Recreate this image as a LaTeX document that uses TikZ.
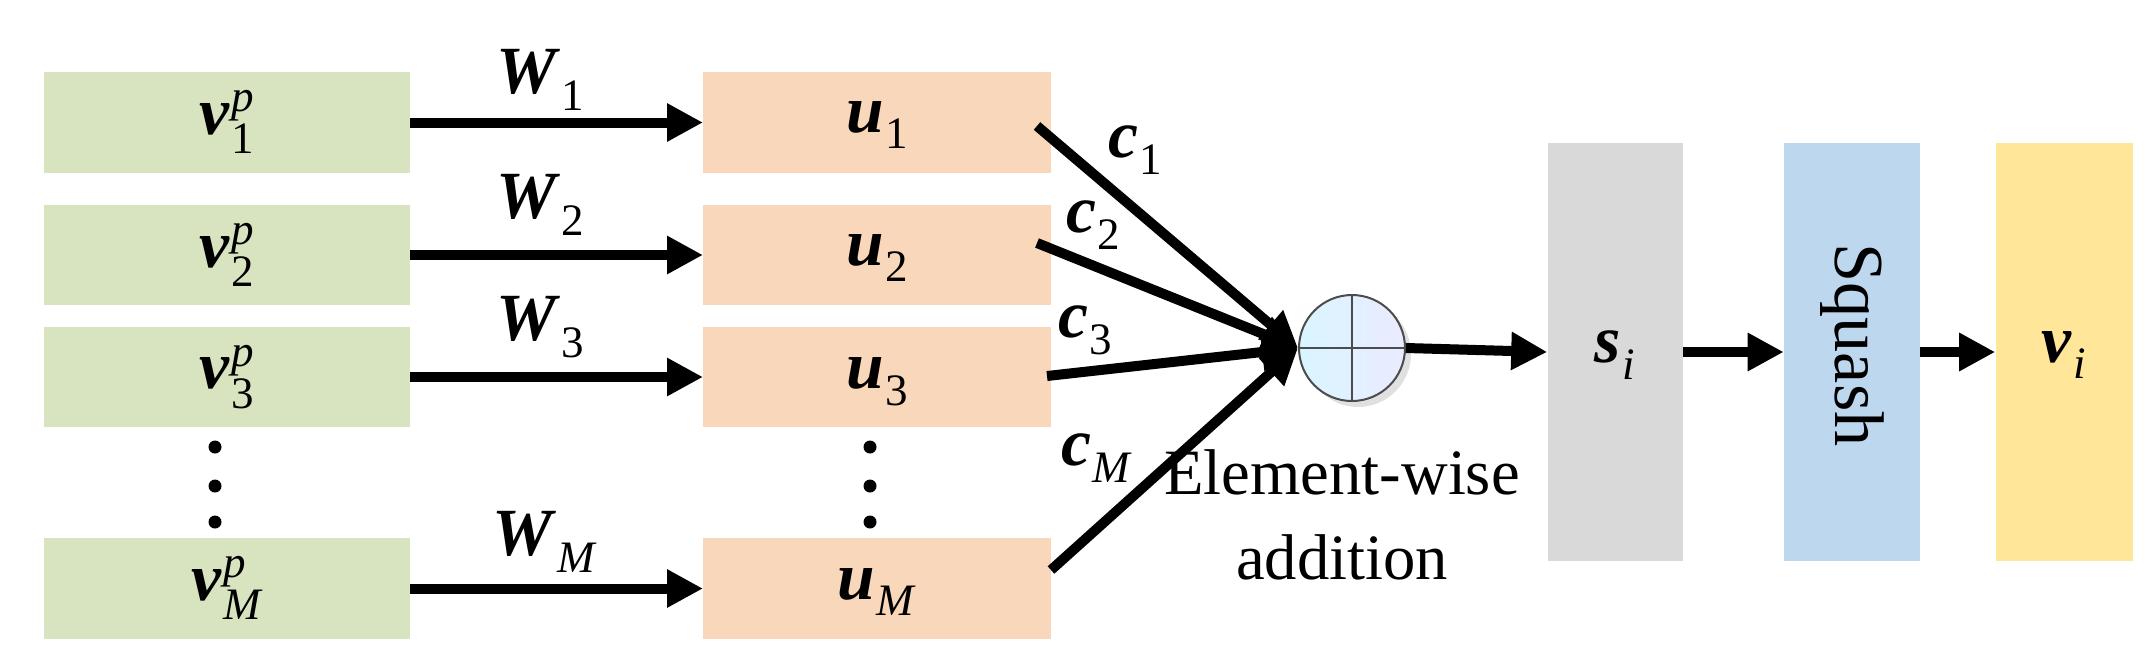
\documentclass[tikz,border=0pt]{standalone}
\usepackage{fontspec}
\setmainfont{Liberation Serif}
\usetikzlibrary{arrows.meta,shadows}
\definecolor{gbox}{HTML}{D8E4C0}
\definecolor{obox}{HTML}{F8D7BA}
\definecolor{sbox}{HTML}{D9D9D9}
\definecolor{qbox}{HTML}{BDD7EE}
\definecolor{vbox}{HTML}{FFE699}
\newcommand{\bv}[1]{\textbf{\textit{#1}}}
\newcommand{\sbs}[1]{\kern1pt\raisebox{-12pt}{\fontsize{32}{34}\selectfont #1}}
\newcommand{\vp}[1]{\bv{v}\kern1pt\rlap{\raisebox{16pt}{\fontsize{32}{34}\selectfont\textit{p}}}\raisebox{-14pt}{\fontsize{32}{34}\selectfont #1}}
\begin{document}
\begin{tikzpicture}[x=0.25mm,y=-0.25mm,
  lab/.style={font=\fontsize{48}{52}\selectfont,inner sep=0},
  arr/.style={line width=2.5mm,-{Triangle[length=9mm,width=9mm]}}]
\useasboundingbox (0,0) rectangle (2152,668);
\foreach \n/\ya/\yb in {1/72/173,2/205/305,3/327/427,M/538/639}{
  \fill[gbox] (44,\ya) rectangle (410,\yb);
  \coordinate (g\n) at (410,{(\ya+\yb)/2});
  \fill[obox] (703,\ya) rectangle (1051,\yb);
  \coordinate (o\n) at (703,{(\ya+\yb)/2});
}
\node[lab] (tv1) at (227,122) {\vp{1}};
\node[lab] (tv2) at (227,255) {\vp{2}};
\node[lab] (tv3) at (227,377) {\vp{3}};
\node[lab] (tvM) at (227,588) {\vp{\textit{M}}};
\node[lab] (tu1) at (877,125) {\bv{u}\sbs{1}};
\node[lab] (tu2) at (877,258) {\bv{u}\sbs{2}};
\node[lab] (tu3) at (877,382) {\bv{u}\sbs{3}};
\node[lab] (tuM) at (877,592) {\bv{u}\sbs{\textit{M}}};
\foreach \n in {1,2,3,M}{ \draw[arr] (g\n) -- (o\n); }
\node[lab] (w1) at (540,80) {\bv{W}\sbs{1}};
\node[lab] (w2) at (540,205) {\bv{W}\sbs{2}};
\node[lab] (w3) at (540,327) {\bv{W}\sbs{3}};
\node[lab] (wM) at (545,542) {\bv{W}\sbs{\textit{M}}};
\foreach \y in {447,486,522}{
  \fill (215,\y) circle (6.5);
  \fill (870,\y) circle (6.5);
}
\node[circle,draw=black!70,line width=0.5mm,minimum width=106*0.25mm,inner sep=0,
  left color=blue!25!cyan!15!white,right color=blue!8!white,
  drop shadow={shadow xshift=1.5mm,shadow yshift=-1.5mm,fill=black!20,opacity=0.6}] (sum) at (1352,348) {};
\draw[black!70,line width=0.5mm] (sum.north) -- (sum.south) (sum.west) -- (sum.east);
\coordinate (c1s) at (1037,126);
\coordinate (c2s) at (1037,243);
\coordinate (c3s) at (1047,376);
\coordinate (cMs) at (1051,570);
\foreach \n in {1,2,3,M}{ \draw[arr] (c\n s) -- (sum.west); }
\node[lab] (lc1) at (1135,150) {\bv{c}\sbs{1}};
\node[lab] (lc2) at (1093,225) {\bv{c}\sbs{2}};
\node[lab] (lc3) at (1085,330) {\bv{c}\sbs{3}};
\node[lab] (lcM) at (1097,458) {\bv{c}\sbs{\textit{M}}};
\node[lab,align=center,font=\fontsize{46}{60}\selectfont] (ew) at (1342,515) {Element-wise\\addition};
\node[fill=sbox,minimum width=135*0.25mm,minimum height=418*0.25mm,inner sep=0] (s) at (1615,352) {};
\node[fill=qbox,minimum width=136*0.25mm,minimum height=418*0.25mm,inner sep=0] (q) at (1852,352) {};
\node[fill=vbox,minimum width=137*0.25mm,minimum height=418*0.25mm,inner sep=0] (v) at (2064,352) {};
\node[lab] (ts) at (1615,355) {\bv{s}\sbs{\textit{i}}};
\node[lab] (tvi) at (2064,355) {\bv{v}\sbs{\textit{i}}};
\node[lab,rotate=-90,font=\fontsize{50}{54}\selectfont] (tq) at (1852,345) {Squash};
\draw[arr] (sum.east) -- (s.west);
\draw[arr] (s.east) -- (q.west);
\draw[arr] (q.east) -- (v.west);
\end{tikzpicture}
\end{document}
